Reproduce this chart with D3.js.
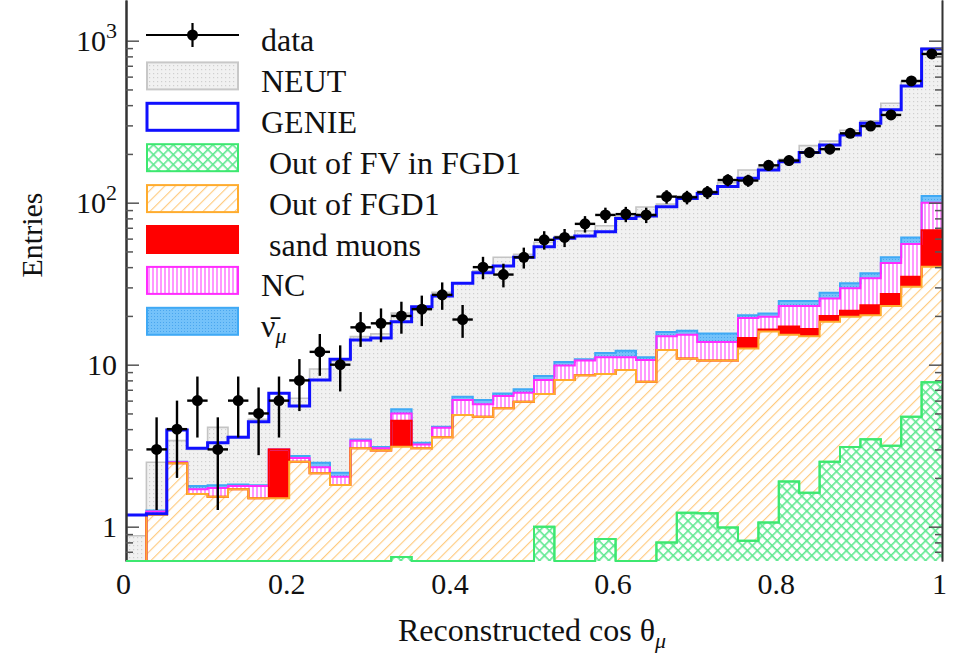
<!DOCTYPE html>
<html><head><meta charset="utf-8">
<script src="https://cdn.jsdelivr.net/npm/d3@7/dist/d3.min.js"></script>
<style>
html,body{margin:0;padding:0;background:#fff;}
svg{display:block;font-family:"Liberation Serif","Times New Roman",serif;}
</style></head><body>
<svg id="chart" width="953" height="654"></svg>
<script>
// ---------- data ----------
const binLowEdges = d3.range(40).map(i => i / 40);   // 40 bins of cos(theta)
const binWidth = 0.025;
const dataCounts = [null,3,4,6,3,6,5,6,8,12,10,17,18,20,22,27,19,40,36,46,59,61,74,84,85,84,109,108,116,138,137,170,182,204,214,268,297,348,564,828];
const neutMC = [0.88,2.5,3.4,3.0,4.1,3.6,4.6,6.0,6.2,9.4,10.5,14.9,15.5,20.8,22,28,32,38,46,48,57,62,67,72,82,94,98,110,118,133,159,165,185,225,240,280,320,411,560,900];
const genieMC = [1.18,1.2,3.95,3.05,3.3,3.56,4.45,6.66,5.56,8.05,10.8,14.2,14.6,18.4,22.8,26.5,31.8,37,40.6,46,53.5,60.3,62.3,66.2,80,82.7,94.5,106,114,126,141.6,159,179,204,227,262,309,375,526,890];
const outFVinFGD1 = [0,0,0,0,0,0,0,0,0,0,0,0,0,0.65,0,0,0,0,0,0,1.0,0,0,0.84,0,0,0.8,1.22,1.21,0.99,0.82,1.06,1.9,1.62,2.52,3.1,3.46,3.16,4.77,7.8];
const outFGD1 = [0,1.18,2.46,1.59,1.53,1.7,1.5,1.5,2.52,2.14,1.81,3.05,2.95,2.47,3.05,3.56,4.89,4.77,5.38,5.9,5.6,8.05,8.6,7.91,9.28,7.85,11.5,9.68,9.39,9.61,11.78,14.94,13.4,13.38,15.88,16.7,16.74,19.84,25.53,32.4];
const sandMuons = [0,0,0,0,0,0,0,1.5,0,0,0,0,0,1.38,0,0,0,0,0,0,0,0,0,0,0,0,0,0,0,0,2.0,0.5,1.9,1.6,1.6,1.7,3.1,4.3,4.6,27.5];
const ncBkg = [0,0.06,0.04,0.11,0.2,0.08,0.28,0,0.13,0.19,0.22,0.34,0.1,0.5,0.17,0.52,1.16,0.93,1.02,0.8,1.45,1.85,2.0,2.35,1.82,2.85,2.7,4.4,3.2,3.2,4.8,3.3,5.8,6.4,5.6,8.1,10.9,15.2,20.6,32.3];
const numubarBkg = [0,0.02,0.02,0.08,0.07,0.04,0.02,0,0.08,0.15,0.12,0.06,0.05,0.3,0.08,0.06,0.3,0.35,0.25,0.35,0.45,0.5,0.2,0.7,1.1,0.4,0.9,0.9,1.8,1.8,0.8,0.9,1.7,1.7,2.2,2.2,2.5,3.5,5.5,10];
const xTickValues = [0, 0.2, 0.4, 0.6, 0.8, 1];
const xTickLabels = ["0", "0.2", "0.4", "0.6", "0.8", "1"];
const yMajorTicks = [1, 10, 100, 1000];
const yTickBase = ["1", "10", "10", "10"];
const yTickExp = ["", "", "2", "3"];
const legendLabels = ["data", "NEUT", "GENIE", " Out of FV in FGD1", " Out of FGD1", " sand muons", "NC", "\u03BD\u0304"];
const stackKeys = ["fv", "fgd1", "sand", "nc", "nubar"];

// ---------- layout ----------
const plot = {left: 126, right: 942, top: 0, bottom: 561};
const x = d3.scaleLinear().domain([0, 1]).range([plot.left, plot.right]);
const y = d3.scaleLog().domain([0.614, 1783]).range([plot.bottom, plot.top]).clamp(true);

const svg = d3.select("#chart");
const defs = svg.append("defs");

// patterns
function pat(id, w, h, bg, transform) {
  const p = defs.append("pattern").attr("id", id).attr("patternUnits", "userSpaceOnUse")
    .attr("width", w).attr("height", h);
  if (transform) p.attr("patternTransform", transform);
  p.append("rect").attr("width", w).attr("height", h).attr("fill", bg);
  return p;
}
let p = pat("neutPat", 4, 4, "#f1f1f1");
p.append("rect").attr("x", 1).attr("y", 1).attr("width", 1.2).attr("height", 1.2).attr("fill", "#cfcfcf");
p = pat("fvPat", 7, 7, "#ffffff", "rotate(45)");
p.append("line").attr("x1", 0).attr("y1", 0).attr("x2", 0).attr("y2", 7).attr("stroke", "#5fe890").attr("stroke-width", 3.2);
p.append("line").attr("x1", 0).attr("y1", 0).attr("x2", 7).attr("y2", 0).attr("stroke", "#5fe890").attr("stroke-width", 3.2);
p = pat("fgd1Pat", 7.5, 7.5, "#ffffff", "rotate(45)");
p.append("line").attr("x1", 0).attr("y1", 0).attr("x2", 0).attr("y2", 7.5).attr("stroke", "#ffcb80").attr("stroke-width", 2.3);
p = pat("ncPat", 4, 4, "#ffffff");
p.append("line").attr("x1", 1).attr("y1", 0).attr("x2", 1).attr("y2", 4).attr("stroke", "#ff6cff").attr("stroke-width", 1.4);
p = pat("nubarPat", 3, 3, "#74c2fa");
p.append("rect").attr("x", 1).attr("y", 1).attr("width", 1).attr("height", 1).attr("fill", "#4aa6ee");

defs.append("clipPath").attr("id", "plotClip").append("rect")
  .attr("x", plot.left).attr("y", plot.top).attr("width", plot.right - plot.left).attr("height", plot.bottom - plot.top);

const styles = {
  fv:    {fill: "url(#fvPat)",    stroke: "#3de870"},
  fgd1:  {fill: "url(#fgd1Pat)",  stroke: "#ffac2e"},
  sand:  {fill: "#ff0000",        stroke: "#ff0000"},
  nc:    {fill: "url(#ncPat)",    stroke: "#ff2cff"},
  nubar: {fill: "url(#nubarPat)", stroke: "#3fa9f5"}
};

function stepPts(vals) {
  const pts = vals.map((v, i) => ({x: binLowEdges[i], v: v}));
  pts.push({x: binLowEdges[vals.length - 1] + binWidth, v: vals[vals.length - 1]});
  return pts;
}
const stepLine = d3.line().curve(d3.curveStepAfter).x(d => x(d.x)).y(d => y(d.v));
const stepArea = d3.area().curve(d3.curveStepAfter).x(d => x(d.x)).y0(d => y(d.lo)).y1(d => y(d.hi));

const g = svg.append("g").attr("clip-path", "url(#plotClip)");

// NEUT
const neutPts = stepPts(neutMC).map(d => ({x: d.x, lo: 0, hi: d.v, v: d.v}));
g.append("path").attr("d", stepArea(neutPts)).attr("fill", "url(#neutPat)");
g.append("path").attr("d", stepLine(neutPts)).attr("fill", "none").attr("stroke", "#c4c4c4").attr("stroke-width", 1.6);

// stacked backgrounds
const rows = binLowEdges.map((e, i) => ({fv: outFVinFGD1[i], fgd1: outFGD1[i], sand: sandMuons[i], nc: ncBkg[i], nubar: numubarBkg[i]}));
const series = d3.stack().keys(stackKeys)(rows);
const seriesPts = series.map(s => {
  const pts = s.map((d, i) => ({x: binLowEdges[i], lo: d[0], hi: d[1], v: d[1]}));
  const last = s[s.length - 1];
  pts.push({x: 1, lo: last[0], hi: last[1], v: last[1]});
  return {key: s.key, pts: pts};
});
seriesPts.forEach(s => {
  g.append("path").attr("d", stepArea(s.pts)).attr("fill", "#fff");
  g.append("path").attr("d", stepArea(s.pts)).attr("fill", styles[s.key].fill);
});
seriesPts.slice().reverse().forEach(s => {
  g.append("path").attr("d", stepLine(s.pts)).attr("fill", "none")
    .attr("stroke", styles[s.key].stroke).attr("stroke-width", 2);
});

// GENIE
g.append("path").attr("d", stepLine(stepPts(genieMC))).attr("fill", "none")
  .attr("stroke", "#1010ff").attr("stroke-width", 3);

// data points
const dataPts = dataCounts.map((n, i) => ({c: binLowEdges[i] + binWidth / 2, n: n})).filter(d => d.n);
const dg = g.append("g");
dataPts.forEach(d => {
  const e = Math.sqrt(d.n);
  dg.append("line").attr("x1", x(d.c)).attr("x2", x(d.c)).attr("y1", y(d.n + e)).attr("y2", y(d.n - e))
    .attr("stroke", "#000").attr("stroke-width", 2.4);
  dg.append("line").attr("x1", x(d.c - binWidth / 2)).attr("x2", x(d.c + binWidth / 2)).attr("y1", y(d.n)).attr("y2", y(d.n))
    .attr("stroke", "#000").attr("stroke-width", 2.4);
  dg.append("circle").attr("cx", x(d.c)).attr("cy", y(d.n)).attr("r", 5.5).attr("fill", "#000");
});

// ---------- axes ----------
const minorTicks = y.ticks().filter(v => !yMajorTicks.includes(v));
const axL = svg.append("g").attr("transform", `translate(${plot.left},0)`)
  .call(d3.axisLeft(y).tickValues(yMajorTicks).tickSize(-13).tickSizeOuter(0).tickPadding(11)
    .tickFormat(() => ""));
axL.append("g").call(d3.axisLeft(y).tickValues(minorTicks).tickSize(-7).tickSizeOuter(0).tickFormat(""));
axL.selectAll(".domain").attr("stroke", "#333").attr("stroke-width", 2);
axL.selectAll(".tick line").attr("stroke", "#555").attr("stroke-width", 1.5);
axL.selectAll(".tick text").remove();
const yLab = svg.append("g");
yMajorTicks.forEach((v, i) => {
  const t = yLab.append("text").attr("x", plot.left - 9).attr("y", y(v)).attr("dy", "0.34em")
    .attr("text-anchor", "end").attr("font-size", 30).attr("fill", "#111");
  t.append("tspan").text(yTickBase[i]);
  if (yTickExp[i]) t.append("tspan").attr("font-size", 22).attr("dy", "-0.6em").text(yTickExp[i]);
});

const axR = svg.append("g").attr("transform", `translate(${plot.right},0)`)
  .call(d3.axisRight(y).tickValues(yMajorTicks).tickSize(-13).tickSizeOuter(0).tickFormat(""));
axR.append("g").call(d3.axisRight(y).tickValues(minorTicks).tickSize(-7).tickSizeOuter(0).tickFormat(""));
axR.selectAll(".domain").attr("stroke", "#333").attr("stroke-width", 1.6);
axR.selectAll(".tick line").attr("stroke", "#555").attr("stroke-width", 1.5);

const axB = svg.append("g").attr("transform", `translate(0,${plot.bottom})`)
  .call(d3.axisBottom(x).tickValues(xTickValues).tickSize(0).tickPadding(12)
    .tickFormat((d, i) => xTickLabels[i]));
axB.attr("font-family", null);
axB.selectAll(".domain").remove();
axB.selectAll("text").attr("font-size", 30).attr("fill", "#111").attr("dx", -3);
// green FV outline sits on the bottom
svg.append("path").attr("d", stepLine(seriesPts[0].pts)).attr("fill", "none")
  .attr("stroke", styles.fv.stroke).attr("stroke-width", 2);

// titles
const xt = svg.append("text").attr("x", 532).attr("y", 641).attr("text-anchor", "middle")
  .attr("font-size", 32).attr("fill", "#111");
xt.append("tspan").text("Reconstructed cos θ");
xt.append("tspan").attr("font-style", "italic").attr("font-size", 22).attr("dy", 7).text("μ");
svg.append("text").attr("transform", "translate(42,235) rotate(-90)").attr("text-anchor", "middle")
  .attr("font-size", 30).attr("fill", "#111").text("Entries");

// ---------- legend ----------
const leg = svg.append("g");
const legFills = [null, "url(#neutPat)", "#ffffff", "url(#fvPat)", "url(#fgd1Pat)", "#ff0000", "url(#ncPat)", "url(#nubarPat)"];
const legStrokes = [null, "#c8c8c8", "#1010ff", "#3de870", "#ffac2e", "#ff0000", "#ff2cff", "#3fa9f5"];
legendLabels.forEach((lab, i) => {
  const cy = 35 + 40.9 * i;
  if (i === 0) {
    leg.append("line").attr("x1", 146).attr("x2", 239).attr("y1", cy).attr("y2", cy).attr("stroke", "#000").attr("stroke-width", 2);
    leg.append("line").attr("x1", 192.5).attr("x2", 192.5).attr("y1", cy - 12).attr("y2", cy + 12).attr("stroke", "#000").attr("stroke-width", 2.2);
    leg.append("circle").attr("cx", 192.5).attr("cy", cy).attr("r", 5.5).attr("fill", "#000");
  } else {
    leg.append("rect").attr("x", 147).attr("y", cy - 13.5).attr("width", 91).attr("height", 27)
      .attr("fill", legFills[i]).attr("stroke", legStrokes[i]).attr("stroke-width", i === 2 ? 3 : 2);
  }
  const t = leg.append("text").attr("x", 261).attr("y", cy + 16).attr("font-size", 32).attr("fill", "#111")
    .style("white-space", "pre");
  t.append("tspan").text(lab);
  if (i === legendLabels.length - 1) {
    t.append("tspan").attr("font-style", "italic").attr("font-size", 22).attr("dy", 6).text("μ");
  }
});
</script>
</body></html>
